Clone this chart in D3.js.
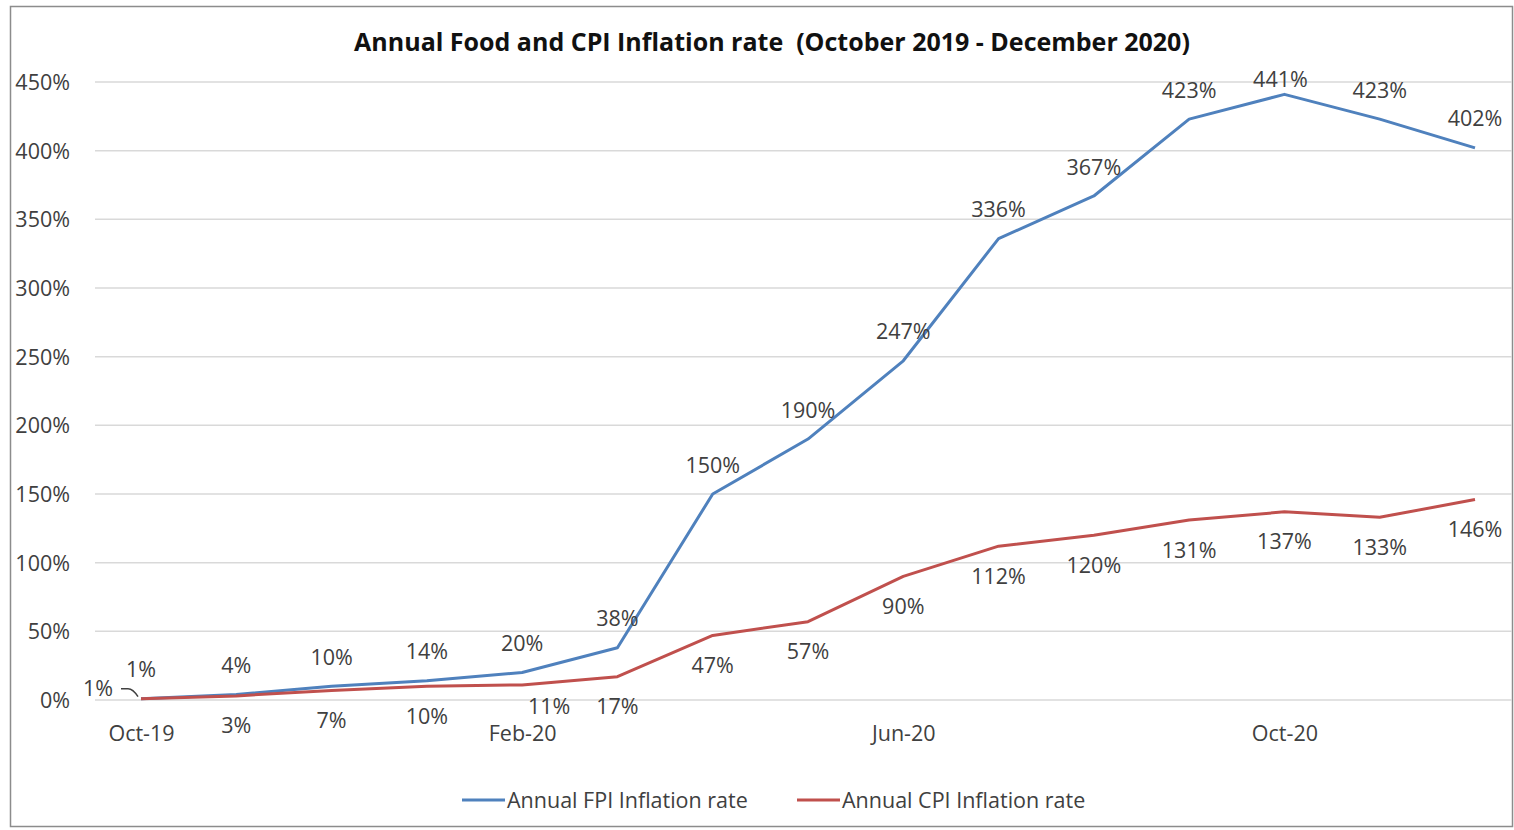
<!DOCTYPE html>
<html><head><meta charset="utf-8">
<script src="https://cdn.jsdelivr.net/npm/d3@7"></script>
<style>
html,body{margin:0;padding:0;background:#fff;}
svg text{font-family:"Open Sans", Lato, sans-serif;fill:#404040;}
</style></head>
<body>
<svg id="chart" width="1514" height="830"></svg>
<script>
const months = ["Oct-19","Nov-19","Dec-19","Jan-20","Feb-20","Mar-20","Apr-20","May-20","Jun-20","Jul-20","Aug-20","Sep-20","Oct-20","Nov-20","Dec-20"];
const fpi = [1,4,10,14,20,38,150,190,247,336,367,423,441,423,402];
const cpi = [1,3,7,10,11,17,47,57,90,112,120,131,137,133,146];
const yTicks = [0,50,100,150,200,250,300,350,400,450];
const xTickLabels = ["Oct-19","Feb-20","Jun-20","Oct-20"];
const seriesNames = ["Annual FPI Inflation rate","Annual CPI Inflation rate"];
const colors = ["#4f81bd","#c0504d"];

const svg = d3.select("#chart");
// frame
svg.append("rect").attr("x",10.5).attr("y",6.5).attr("width",1502).attr("height",820)
  .attr("fill","#fff").attr("stroke","#8c8c8c").attr("stroke-width",1.5);

const plotTop = 82, plotBottom = 700;
const x = d3.scalePoint().domain(months).range([141, 1475]);
const y = d3.scaleLinear().domain([0,450]).range([plotBottom, plotTop]);

// gridlines
svg.append("g").selectAll("line").data(yTicks).join("line")
  .attr("x1",95).attr("x2",1512).attr("y1",d=>y(d)).attr("y2",d=>y(d))
  .attr("stroke","#d9d9d9").attr("stroke-width",1.5);

const fs = "21.5px";
// y axis labels
const yAxis = d3.axisLeft(y).tickValues(yTicks).tickFormat(d=>d+"%").tickSize(0).tickPadding(0);
const yg = svg.append("g").attr("transform","translate(70,0)").call(yAxis);
yg.select(".domain").remove();
yg.selectAll("text").style("font-size",fs).style("font-family","'Open Sans'").attr("fill","#404040").attr("dy","0.35em");

// x axis labels
const xAxis = d3.axisBottom(x).tickValues(xTickLabels).tickSize(0).tickPadding(0);
const xg = svg.append("g").attr("transform","translate(0,733)").call(xAxis);
xg.select(".domain").remove();
xg.selectAll("text").style("font-size",fs).style("font-family","'Open Sans'").attr("fill","#404040").attr("dy","0.35em");

// lines
const line = d3.line().x((d,i)=>x(months[i])).y(d=>y(d));
[fpi,cpi].forEach((s,k)=>{
  svg.append("path").datum(s).attr("d",line).attr("fill","none")
    .attr("stroke",colors[k]).attr("stroke-width",3).attr("stroke-linejoin","round");
});

// data labels
svg.append("g").selectAll("text").data(fpi).join("text")
  .attr("x",(d,i)=>x(months[i]) - (i===12 ? 4 : 0))
  .attr("y",(d,i)=>Math.max(y(d)-29, 79))
  .attr("dy","0.35em")
  .attr("text-anchor","middle").style("font-size",fs).text(d=>d+"%");

svg.append("g").selectAll("text").data(cpi).join("text")
  .attr("x",(d,i)=>{
    if(i===0) return x(months[i])-43;
    if(i===4) return x(months[i])+27;
    return x(months[i]);
  })
  .attr("y",(d,i)=>{
    if(i===0) return y(d)-10;
    if(i===4) return y(d)+22;
    return y(d)+30;
  })
  .attr("dy","0.35em").attr("text-anchor","middle").style("font-size",fs).text(d=>d+"%");

// leader line for first CPI label
const lx = x(months[0]), ly = y(cpi[0]);
svg.append("path").attr("d",`M${lx-20},${ly-10} L${lx-13},${ly-10} Q${lx-8},${ly-10} ${lx-3},${ly-2}`)
  .attr("fill","none").attr("stroke","#404040").attr("stroke-width",1.5);

// title
svg.append("text").attr("x",772).attr("y",42).attr("dy","0.35em").attr("text-anchor","middle")
  .style("font-size","25px").style("font-weight","bold")
  .style("fill","#111").attr("xml:space","preserve")
  .text("Annual Food and CPI Inflation rate  (October 2019 - December 2020)");

// legend
const legX = [462, 797];
seriesNames.forEach((n,k)=>{
  svg.append("line").attr("x1",legX[k]).attr("x2",legX[k]+43).attr("y1",800).attr("y2",800)
    .attr("stroke",colors[k]).attr("stroke-width",3);
  svg.append("text").attr("x",legX[k]+45).attr("y",800).attr("dy","0.35em")
    .style("font-size",fs).text(n);
});
</script>
</body></html>
